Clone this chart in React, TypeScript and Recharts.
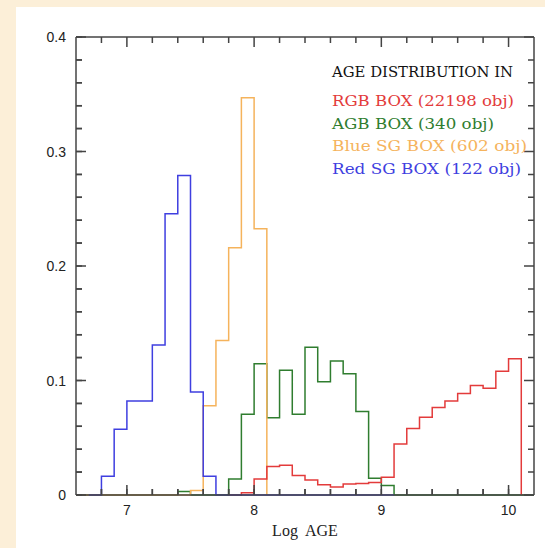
import { Line, LineChart, XAxis, YAxis } from 'recharts';

// bin edges (log age), histogram value for the bin starting at each edge
const binEdges = [
  6.6, 6.7, 6.8, 6.9, 7.0, 7.1, 7.2, 7.3, 7.4, 7.5, 7.6, 7.7, 7.8, 7.9, 8.0, 8.1, 8.2, 8.3, 8.4,
  8.5, 8.6, 8.7, 8.8, 8.9, 9.0, 9.1, 9.2, 9.3, 9.4, 9.5, 9.6, 9.7, 9.8, 9.9, 10.0, 10.1, 10.2,
];

const rgbBox = [
  null, null, null, null, null, null, null, null, null, null, null, null, 0, 0.002, 0.014, 0.025,
  0.026, 0.017, 0.013, 0.009, 0.007, 0.0095, 0.01, 0.011, 0.0155, 0.0446, 0.058, 0.068, 0.0764,
  0.082, 0.0887, 0.0956, 0.0933, 0.108, 0.119, 0, null,
];

const agbBox = [
  0, 0, 0, 0, 0, 0, 0, 0, 0.003, 0, 0, 0, 0.014, 0.0705, 0.1146, 0.0675, 0.109, 0.0705, 0.129,
  0.099, 0.117, 0.106, 0.073, 0.0146, 0.0082, 0, 0, 0, 0, 0, 0, 0, 0, 0, 0, 0, 0,
];

const blueSgBox = [
  0, 0, 0, 0, 0, 0, 0, 0, 0, 0.004, 0.078, 0.135, 0.216, 0.347, 0.2325, 0, null, null, null, null,
  null, null, null, null, null, null, null, null, null, null, null, null, null, null, null, null,
  null,
];

const redSgBox = [
  null, 0, 0.0164, 0.0574, 0.082, 0.082, 0.131, 0.2456, 0.279, 0.09, 0.0164, 0, 0, 0, 0, 0, 0, 0,
  0, 0, 0, 0, 0, 0, 0, 0, null, null, null, null, null, null, null, null, null, null, null,
];

const xTicks = [6.8, 7, 7.2, 7.4, 7.6, 7.8, 8, 8.2, 8.4, 8.6, 8.8, 9, 9.2, 9.4, 9.6, 9.8, 10];
const yTicks = [
  0, 0.02, 0.04, 0.06, 0.08, 0.1, 0.12, 0.14, 0.16, 0.18, 0.2, 0.22, 0.24, 0.26, 0.28, 0.3, 0.32,
  0.34, 0.36, 0.38, 0.4,
];

const legendTitle = 'AGE DISTRIBUTION IN';
const seriesNames = [
  'RGB BOX (22198 obj)',
  'AGB BOX (340 obj)',
  'Blue SG BOX (602 obj)',
  'Red SG BOX (122 obj)',
];
const seriesColors = ['#e33b3b', '#2f7d2f', '#f5b35c', '#3f3fe0'];

const data = binEdges.map((x, i) => ({
  x,
  rgb: rgbBox[i],
  agb: agbBox[i],
  blue: blueSgBox[i],
  red: redSgBox[i],
}));

const W = 545;
const H = 548;
const Y_AXIS_W = 76;
const X_AXIS_H = 53;
const PLOT_LEFT = Y_AXIS_W;
const PLOT_BOTTOM = H - X_AXIS_H;

const AXIS = '#444';
const MAJOR = 10;
const MINOR = 6;
const SANS = 'Liberation Sans, Arial, sans-serif';

const isMajorX = (v: number) => Math.abs(v - Math.round(v)) < 1e-6;
const isMajorY = (v: number) => Math.abs(v * 10 - Math.round(v * 10)) < 1e-6;

// top axis draws the inward tick marks on the top edge (and the longer major ones at the bottom)
function topTick(props: any) {
  const { x, y, payload } = props;
  const len = isMajorX(payload.value) ? MAJOR : MINOR;
  return (
    <path d={`M${x},${y}v${len}M${x},${PLOT_BOTTOM}v${-len}`} stroke={AXIS} strokeWidth={1.5} fill="none" />
  );
}

// right axis draws the inward tick marks on the right edge (and the longer major ones at the left)
function rightTick(props: any) {
  const { x, y, payload } = props;
  const len = isMajorY(payload.value) ? MAJOR : MINOR;
  return (
    <path d={`M${x},${y}h${-len}M${PLOT_LEFT},${y}h${len}`} stroke={AXIS} strokeWidth={1.5} fill="none" />
  );
}

function bottomLabel(props: any) {
  const { x, y, payload } = props;
  return (
    <text x={x} y={y + 20} textAnchor="middle" fontSize={14} fill="#222" fontFamily={SANS}>
      {isMajorX(payload.value) ? String(payload.value) : ''}
    </text>
  );
}

function leftLabel(props: any) {
  const { x, y, payload } = props;
  return (
    <text x={x - 10} y={y + 5} textAnchor="end" fontSize={14} fill="#222" fontFamily={SANS}>
      {isMajorY(payload.value) ? String(payload.value) : ''}
    </text>
  );
}

export default function App() {
  return (
    <div style={{ position: 'absolute', left: 0, top: 0, width: W, height: H, background: '#fcefd8', overflow: 'hidden' }}>
      <div style={{ position: 'absolute', left: 16, top: 7, width: W - 16, height: H - 7, background: '#ffffff' }} />
      <div style={{ position: 'absolute', left: 0, top: 0 }}>
        <LineChart width={W} height={H} data={data} margin={{ top: 36, right: 10, bottom: 0, left: 0 }}>
          <XAxis
            xAxisId="bottom"
            dataKey="x"
            type="number"
            domain={[6.6, 10.2]}
            ticks={xTicks}
            interval={0}
            height={X_AXIS_H}
            tickSize={-MINOR}
            tickMargin={MINOR}
            tickLine={{ stroke: AXIS, strokeWidth: 1.5 }}
            tick={bottomLabel}
            axisLine={{ stroke: AXIS, strokeWidth: 1.5 }}
            label={{ value: 'Log AGE', position: 'insideBottom', offset: 12, fontSize: 16, fill: '#222', fontFamily: 'Liberation Serif, serif', wordSpacing: 4 }}
          />
          <XAxis
            xAxisId="top"
            orientation="top"
            dataKey="x"
            type="number"
            domain={[6.6, 10.2]}
            ticks={xTicks}
            interval={0}
            height={1}
            tickSize={0}
            tickMargin={0}
            tickLine={false}
            tick={topTick}
            axisLine={{ stroke: AXIS, strokeWidth: 1.5 }}
          />
          <YAxis
            yAxisId="left"
            type="number"
            domain={[0, 0.4]}
            ticks={yTicks}
            interval={0}
            width={Y_AXIS_W}
            tickSize={-MINOR}
            tickMargin={MINOR}
            tickLine={{ stroke: AXIS, strokeWidth: 1.5 }}
            tick={leftLabel}
            axisLine={{ stroke: AXIS, strokeWidth: 1.5 }}
          />
          <YAxis
            yAxisId="right"
            orientation="right"
            type="number"
            domain={[0, 0.4]}
            ticks={yTicks}
            interval={0}
            width={1}
            tickSize={0}
            tickMargin={0}
            tickLine={false}
            tick={rightTick}
            axisLine={{ stroke: AXIS, strokeWidth: 1.5 }}
          />
          <Line xAxisId="bottom" yAxisId="left" type="stepAfter" dataKey="agb" stroke={seriesColors[1]} strokeWidth={1.5} dot={false} isAnimationActive={false} />
          <Line xAxisId="bottom" yAxisId="left" type="stepAfter" dataKey="blue" stroke={seriesColors[2]} strokeWidth={1.5} dot={false} isAnimationActive={false} />
          <Line xAxisId="bottom" yAxisId="left" type="stepAfter" dataKey="rgb" stroke={seriesColors[0]} strokeWidth={1.5} dot={false} isAnimationActive={false} />
          <Line xAxisId="top" yAxisId="right" type="stepAfter" dataKey="red" stroke={seriesColors[3]} strokeWidth={1.5} dot={false} isAnimationActive={false} />
        </LineChart>
      </div>
      <svg width={W} height={H} style={{ position: 'absolute', left: 0, top: 0, pointerEvents: 'none' }}>
        <text x={332} y={77} fontSize={14} fill="#111" fontFamily="DejaVu Serif, serif" textLength={181} lengthAdjust="spacingAndGlyphs">
          {legendTitle}
        </text>
        {seriesNames.map((name, i) => (
          <text
            key={name}
            x={332}
            y={106 + i * 22.7}
            fontSize={14}
            fill={seriesColors[i]}
            fontFamily="DejaVu Serif, serif"
            textLength={[182, 162, 195, 189][i]}
            lengthAdjust="spacingAndGlyphs"
          >
            {name}
          </text>
        ))}
      </svg>
    </div>
  );
}
